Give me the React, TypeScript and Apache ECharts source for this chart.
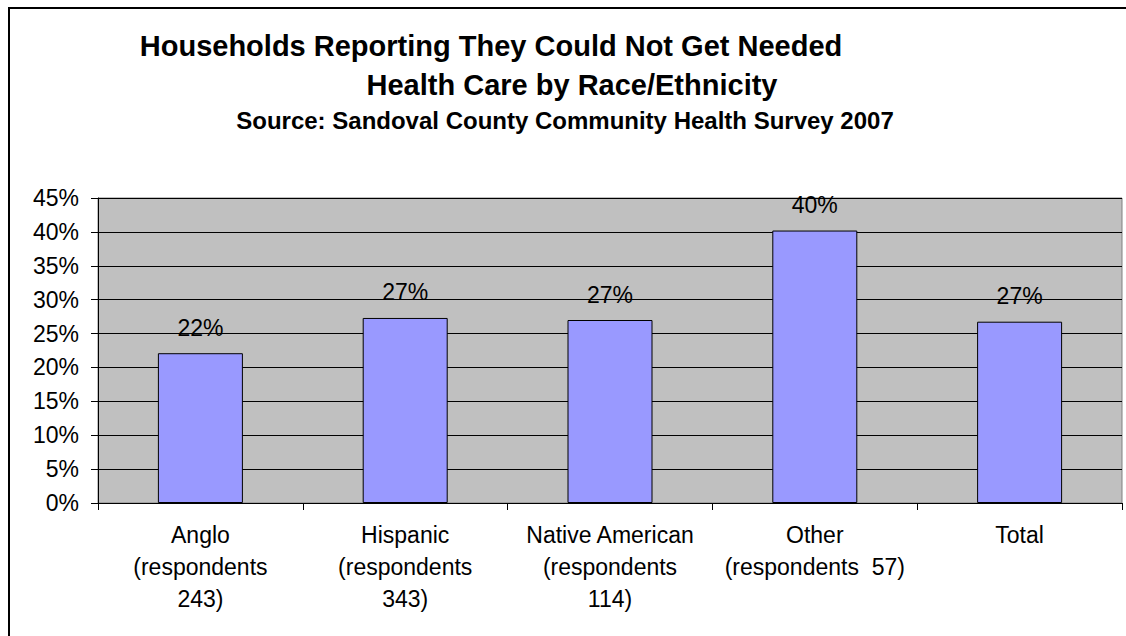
import React, { useEffect, useRef } from "react";
import * as echarts from "echarts";

const titleLine1 = "Households Reporting They Could Not Get Needed";
const titleLine2 = "Health Care by Race/Ethnicity";
const titleLine3 = "Source: Sandoval County Community Health Survey 2007";

const categories = [
  "Anglo\n(respondents\n243)",
  "Hispanic\n(respondents\n343)",
  "Native American\n(respondents\n114)",
  "Other\n(respondents  57)",
  "Total",
];
const values = [0.221, 0.273, 0.27, 0.402, 0.2675];
const yMin = 0;
const yMax = 0.45;
const yStep = 0.05;

const FONT = "'Liberation Sans', Arial, Helvetica, sans-serif";

export default function App() {
  const ref = useRef<HTMLDivElement>(null);
  useEffect(() => {
    if (!ref.current) return;
    const chart = echarts.init(ref.current, undefined, { renderer: "svg" });
    chart.setOption({
      animation: false,
      backgroundColor: "#ffffff",
      textStyle: { fontFamily: FONT, color: "#000" },
      title: [
        {
          text: titleLine1,
          left: 491,
          top: 31,
          padding: 0,
          textAlign: "center",
          textStyle: { fontFamily: FONT, fontSize: 29, fontWeight: "bold", color: "#000", lineHeight: 30 },
        },
        {
          text: titleLine2,
          left: 572,
          top: 70,
          padding: 0,
          textAlign: "center",
          textStyle: { fontFamily: FONT, fontSize: 29, fontWeight: "bold", color: "#000", lineHeight: 30 },
        },
        {
          text: titleLine3,
          left: 565,
          top: 108,
          padding: 0,
          textAlign: "center",
          textStyle: { fontFamily: FONT, fontSize: 24, fontWeight: "bold", color: "#000", lineHeight: 24 },
        },
      ],
      graphic: [
        {
          type: "rect",
          shape: { x: 9, y: 8, width: 1140, height: 700 },
          style: { fill: "none", stroke: "#000", lineWidth: 2 },
          z: 100,
          silent: true,
        },
      ],
      grid: {
        left: 98,
        top: 198,
        right: 4,
        bottom: 133,
        show: true,
        backgroundColor: "#C0C0C0",
        borderColor: "#808080",
        borderWidth: 1,
      },
      xAxis: {
        type: "category",
        data: categories,
        axisLine: { show: true, lineStyle: { color: "#000", width: 1 } },
        axisTick: { show: true, length: 7, alignWithLabel: false, lineStyle: { color: "#000" } },
        axisLabel: {
          interval: 0,
          margin: 16,
          fontFamily: FONT,
          fontSize: 23,
          lineHeight: 32,
          color: "#000",
          align: "center",
        },
        splitLine: { show: false },
      },
      yAxis: {
        type: "value",
        min: yMin,
        max: yMax,
        interval: yStep,
        axisLine: { show: true, lineStyle: { color: "#000", width: 1 } },
        axisTick: { show: true, length: 7, lineStyle: { color: "#000" } },
        axisLabel: {
          margin: 19,
          fontFamily: FONT,
          fontSize: 23,
          color: "#000",
          formatter: (v: number) => Math.round(v * 100) + "%",
        },
        splitLine: { show: true, lineStyle: { color: "#000", width: 1 } },
      },
      series: [
        {
          type: "bar",
          data: values,
          barWidth: 85,
          itemStyle: { color: "#9999FF", borderColor: "#000", borderWidth: 1 },
          label: {
            show: true,
            position: "top",
            distance: 14,
            fontFamily: FONT,
            fontSize: 23,
            color: "#000",
            formatter: (p: any) => Math.round(p.value * 100) + "%",
          },
        },
      ],
    });
    return () => chart.dispose();
  }, []);
  return (
    <div
      ref={ref}
      style={{ position: "absolute", left: 0, top: 0, width: 1126, height: 636 }}
    />
  );
}
